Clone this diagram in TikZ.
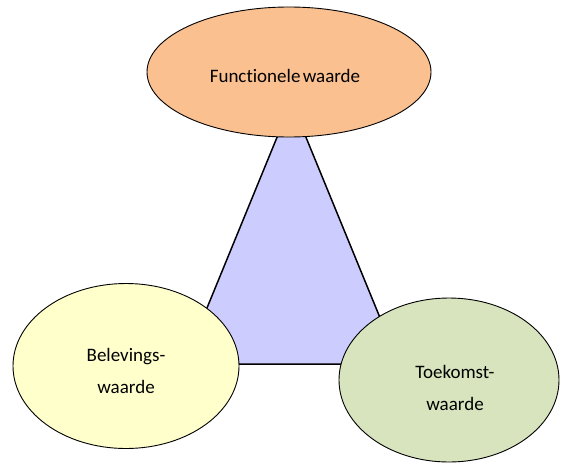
\documentclass[tikz,border=0pt]{standalone}
\usepackage{fontspec}
\setmainfont{Carlito}[Ligatures=NoCommon]
\usetikzlibrary{shapes.geometric}
\definecolor{orangefill}{HTML}{FAC090}
\definecolor{yellowfill}{HTML}{FFFFCC}
\definecolor{greenfill}{HTML}{D7E4BD}
\definecolor{trifill}{HTML}{CCCCFF}
\tikzset{
  val/.style={ellipse, draw=black, line width=0.9pt, inner sep=0pt},
  lbl/.style={align=center, inner sep=0pt, font=\fontsize{19}{32}\selectfont},
}
\begin{document}
\begin{tikzpicture}[x=1pt,y=-1pt]
\useasboundingbox (0,0) rectangle (561,463);
\coordinate (apex) at (291.5,102);
\coordinate (bl) at (184,364);
\coordinate (br) at (399,364);
\filldraw[fill=trifill, draw=black, line width=1.5pt, line join=miter] (apex) -- (bl) -- (br) -- cycle;
\node[val, fill=orangefill, minimum width=284pt, minimum height=130pt] (f) at (289,72) {};
\node[val, fill=yellowfill, minimum width=226pt, minimum height=165pt] (b) at (126,366) {};
\node[val, fill=greenfill, minimum width=220pt, minimum height=164pt] (t) at (449,380) {};
\node[lbl] (ft) at (285,76) {Functionele\hspace{-2pt} waarde};
\node[lbl] (bt) at (126,371) {Belevings-\\waarde};
\node[lbl] (tt) at (455,388) {Toekomst-\\waarde};
\end{tikzpicture}
\end{document}
